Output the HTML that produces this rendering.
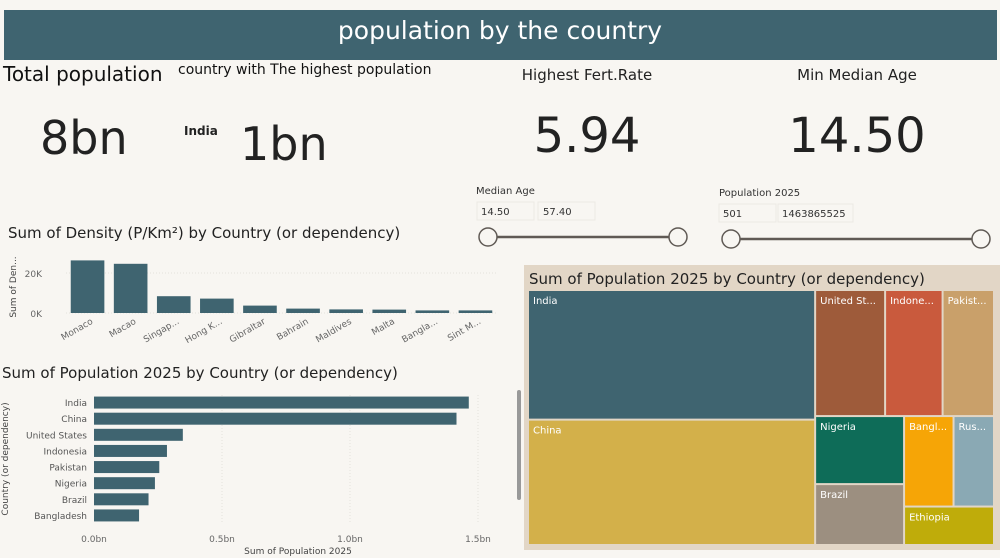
<!DOCTYPE html>
<html><head><meta charset="utf-8"><style>
html,body{margin:0;padding:0;background:#f8f6f2;}
svg{display:block;font-family:"DejaVu Sans","Liberation Sans",sans-serif;}
</style></head><body>
<svg id="s" width="1000" height="558" viewBox="0 0 1000 558">
<rect x="0" y="0" width="1000" height="558" fill="#f8f6f2"/>
<rect x="4" y="10" width="993" height="50" fill="#3f6470"/>
<text x="500" y="39" text-anchor="middle" fill="#fff" font-size="25">population by the country</text>

<text x="3" y="81" font-size="20" fill="#111">Total population</text>
<text x="40" y="154" font-size="46" fill="#222">8bn</text>
<text x="178" y="74" font-size="14" fill="#111">country with The highest population</text>
<text x="184" y="135" font-size="12" font-weight="bold" fill="#222">India</text>
<text x="240" y="160" font-size="46" fill="#222">1bn</text>
<text x="587" y="80" text-anchor="middle" font-size="15" fill="#222">Highest Fert.Rate</text>
<text x="587" y="152" text-anchor="middle" font-size="48" fill="#222">5.94</text>
<text x="857" y="80" text-anchor="middle" font-size="15" fill="#222">Min Median Age</text>
<text x="857" y="152" text-anchor="middle" font-size="48" fill="#222">14.50</text>

<g>
<text x="476" y="194" font-size="10" fill="#333">Median Age</text>
<rect x="477" y="202" width="57" height="18" fill="#f8f6f2" stroke="#ece9e4"/>
<rect x="538" y="202" width="57" height="18" fill="#f8f6f2" stroke="#ece9e4"/>
<text x="481" y="215" font-size="10" fill="#333">14.50</text>
<text x="543" y="215" font-size="10" fill="#333">57.40</text>
<line x1="488" y1="237" x2="678" y2="237" stroke="#605a55" stroke-width="2.5"/>
<circle cx="488" cy="237" r="9" fill="#f8f6f2" stroke="#605a55" stroke-width="1.5"/>
<circle cx="678" cy="237" r="9" fill="#f8f6f2" stroke="#605a55" stroke-width="1.5"/>
</g>
<g>
<text x="719" y="196" font-size="10" fill="#333">Population 2025</text>
<rect x="719" y="204" width="57" height="18" fill="#f8f6f2" stroke="#ece9e4"/>
<rect x="778" y="204" width="75" height="18" fill="#f8f6f2" stroke="#ece9e4"/>
<text x="723" y="217" font-size="10" fill="#333">501</text>
<text x="782" y="217" font-size="10" fill="#333">1463865525</text>
<line x1="731" y1="239" x2="981" y2="239" stroke="#605a55" stroke-width="2.5"/>
<circle cx="731" cy="239" r="9" fill="#f8f6f2" stroke="#605a55" stroke-width="1.5"/>
<circle cx="981" cy="239" r="9" fill="#f8f6f2" stroke="#605a55" stroke-width="1.5"/>
</g>

<text x="8" y="238" font-size="15" fill="#222">Sum of Density (P/Km²) by Country (or dependency)</text>
<text transform="translate(16,287) rotate(-90)" text-anchor="middle" font-size="9" fill="#444">Sum of Den...</text>
<g id="dens"></g>

<text x="2" y="378" font-size="15" fill="#222">Sum of Population 2025 by Country (or dependency)</text>
<text transform="translate(8,459) rotate(-90)" text-anchor="middle" font-size="9" fill="#444">Country (or dependency)</text>
<text x="298" y="554" text-anchor="middle" font-size="9" fill="#444">Sum of Population 2025</text>
<g id="pop"></g>
<rect x="517" y="390" width="4" height="110" rx="2" fill="#999"/>

<rect x="524" y="265" width="476" height="285" fill="#e2d6c6"/>
<text x="529" y="284" font-size="15" fill="#222">Sum of Population 2025 by Country (or dependency)</text>
<g id="tree"></g>
</svg>
<script>
const densCountries=["Monaco","Macao","Singap...","Hong K...","Gibraltar","Bahrain","Maldives","Malta","Bangla...","Sint M..."];
const densValues=[26300,24600,8400,7200,3700,2200,1800,1700,1300,1300];
const densTicks=[0,20000];
const densTickLabels=["0K","20K"];
const popCountries=["India","China","United States","Indonesia","Pakistan","Nigeria","Brazil","Bangladesh"];
const popValues=[1.464,1.416,0.347,0.285,0.255,0.238,0.213,0.176];
const popTicks=[0,0.5,1.0,1.5];
const popTickLabels=["0.0bn","0.5bn","1.0bn","1.5bn"];
const treeNames=["India","China","United St...","Indone...","Pakist...","Nigeria","Brazil","Bangl...","Rus...","Ethiopia"];
const treeValues=[1464,1416,347,285,255,238,213,176,144,136];
const treeColors=["#3f6470","#d3b04a","#9e5b3a","#c95a3d","#c9a06a","#0e6c58","#9c8f80","#f6a506","#8aa9b4","#bfac0a"];

const NS="http://www.w3.org/2000/svg";
function mk(tag,attrs,parent,txt){const e=document.createElementNS(NS,tag);for(const k in attrs)e.setAttribute(k,attrs[k]);if(txt!==undefined)e.textContent=txt;parent.appendChild(e);return e;}

// density chart
(function(){
const g=document.getElementById('dens');
const x0=66,x1=497,base=313,pxPer=40/20000;
const y=v=>base-v*pxPer;
densTicks.forEach((t,i)=>{
 const l=mk('line',{x1:x0,x2:x1,y1:y(t),y2:y(t),stroke:'#e4e1dc','stroke-dasharray':'1,2'},g);
 
 
 const tx=mk('text',{x:42,y:y(t)+4,'text-anchor':'end','font-size':9,fill:'#666'},g,densTickLabels[i]);
 
 
});
const step=(x1-x0)/densValues.length,bw=step*0.78;
densValues.forEach((v,i)=>{
 const cx=x0+step*(i+0.5);
 const r=mk('rect',{x:cx-bw/2,y:y(v),width:bw,height:base-y(v),fill:'#3f6470'},g);
 
 
 const t=mk('text',{transform:`translate(${cx+6},${base+10}) rotate(-30)`,'text-anchor':'end','font-size':9,fill:'#666'},g,densCountries[i]);
 
 
});
})();

// population bar chart
(function(){
const g=document.getElementById('pop');
const x0=94,pxPer=256,top=395,bot=524;
const x=v=>x0+v*pxPer;
popTicks.forEach((t,i)=>{
 if(i>0){const l=mk('line',{x1:x(t),x2:x(t),y1:top,y2:bot,stroke:'#e4e1dc','stroke-dasharray':'1,2'},g);
 
 }
 const tx=mk('text',{x:x(t),y:542,'text-anchor':'middle','font-size':9,fill:'#666'},g,popTickLabels[i]);
 
 
});
const step=(bot-top)/popValues.length;
popValues.forEach((v,i)=>{
 const cy=top+step*(i+0.5)-0.5;
 const r=mk('rect',{x:x0,y:cy-6,width:x(v)-x0,height:12,fill:'#3f6470'},g);
 
 
 const t=mk('text',{x:87,y:cy+3.5,'text-anchor':'end','font-size':9,fill:'#555'},g,popCountries[i]);
 
 
});
})();

// treemap (slice-and-dice layout)
(function(){
const g=document.getElementById('tree');
const X=529,Y=291,W=466,H=255,gap=2;
const total=treeValues.reduce((a,b)=>a+b,0);
const rects=[];
// column 1: India + China
const c1=treeValues[0]+treeValues[1];
const w1=W*c1/total;
rects.push([X,Y,w1,H*treeValues[0]/c1]);
rects.push([X,Y+H*treeValues[0]/c1,w1,H*treeValues[1]/c1]);
// rest
const rx=X+w1,rw=W-w1;
const rowA=treeValues[2]+treeValues[3]+treeValues[4];
const restTot=total-c1;
const hA=H*rowA/restTot;
let cx=rx;
for(let i=2;i<=4;i++){const w=rw*treeValues[i]/rowA;rects.push([cx,Y,w,hA]);cx+=w;}
const yB=Y+hA,hB=H-hA;
const colN=treeValues[5]+treeValues[6];
const restB=restTot-rowA;
const wN=rw*colN/restB;
rects.push([rx,yB,wN,hB*treeValues[5]/colN]);
rects.push([rx,yB+hB*treeValues[5]/colN,wN,hB*treeValues[6]/colN]);
const x2=rx+wN,w2=rw-wN;
const rowBR=treeValues[7]+treeValues[8];
const colBR=rowBR+treeValues[9];
const h7=hB*rowBR/colBR;
rects.push([x2,yB,w2*treeValues[7]/rowBR,h7]);
rects.push([x2+w2*treeValues[7]/rowBR,yB,w2*treeValues[8]/rowBR,h7]);
rects.push([x2,yB+h7,w2,hB-h7]);
rects.forEach((r,i)=>{
 const e=mk('rect',{x:r[0],y:r[1],width:r[2]-gap,height:r[3]-gap,fill:treeColors[i]},g);
 
 
 const t=mk('text',{x:r[0]+4,y:r[1]+13,'font-size':10,fill:'#fff'},g,treeNames[i]);
 
 
});
})();
</script>
</body></html>
